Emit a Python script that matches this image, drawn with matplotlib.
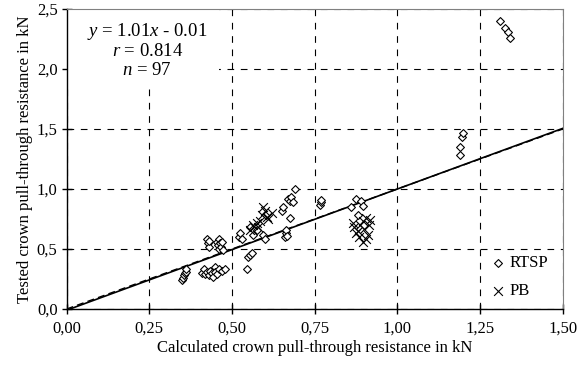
import matplotlib
matplotlib.use("Agg")
import matplotlib.pyplot as plt
from matplotlib.patches import Rectangle
import numpy as np

plt.rcParams["font.family"] = ["Liberation Serif", "DejaVu Serif"]
plt.rcParams["mathtext.fontset"] = "custom"
plt.rcParams["mathtext.rm"] = "Liberation Serif"
plt.rcParams["mathtext.it"] = "Liberation Serif:italic"

# Calculated vs tested crown pull-through resistance (kN)
rtsp_calc = [0.350, 0.352, 0.355, 0.358, 0.360, 0.362,
             0.410, 0.415, 0.420, 0.425, 0.430, 0.435, 0.440, 0.442, 0.448, 0.450, 0.455, 0.460, 0.470, 0.480,
             0.425, 0.428, 0.430, 0.432, 0.455, 0.458, 0.460, 0.462, 0.465, 0.468, 0.470, 0.472,
             0.520, 0.525, 0.530, 0.545, 0.550, 0.555, 0.560, 0.555, 0.565, 0.575, 0.595, 0.600,
             0.650, 0.655, 0.660, 0.662, 0.665, 0.668, 0.670, 0.675, 0.680, 0.685, 0.690, 0.675,
             0.765, 0.768, 0.770,
             0.860, 0.875, 0.890, 0.895, 0.880,
             1.190, 1.190, 1.195, 1.200,
             1.310, 1.325, 1.335, 1.340]
rtsp_test = [0.24, 0.26, 0.28, 0.30, 0.31, 0.33,
             0.30, 0.33, 0.29, 0.31, 0.28, 0.32, 0.30, 0.27, 0.35, 0.31, 0.29, 0.33, 0.32, 0.33,
             0.58, 0.55, 0.52, 0.57, 0.56, 0.53, 0.50, 0.58, 0.55, 0.52, 0.56, 0.49,
             0.60, 0.63, 0.58, 0.33, 0.43, 0.45, 0.47, 0.68, 0.62, 0.66, 0.62, 0.58,
             0.82, 0.85, 0.60, 0.63, 0.66, 0.61, 0.92, 0.90, 0.93, 0.89, 1.00, 0.76,
             0.87, 0.89, 0.91,
             0.85, 0.92, 0.90, 0.86, 0.78,
             1.28, 1.35, 1.43, 1.47,
             2.40, 2.34, 2.31, 2.26]

pb_calc = [0.555, 0.565, 0.575, 0.580, 0.585, 0.590, 0.595, 0.600, 0.605, 0.610, 0.620,
           0.865, 0.870, 0.875, 0.880, 0.885, 0.888, 0.895, 0.900, 0.905, 0.910, 0.915, 0.918, 0.905, 0.895]
pb_test = [0.66, 0.70, 0.72, 0.68, 0.73, 0.78, 0.85, 0.82, 0.77, 0.75, 0.80,
           0.72, 0.68, 0.63, 0.65, 0.60, 0.70, 0.73, 0.67, 0.58, 0.62, 0.70, 0.74, 0.76, 0.56]

slope, intercept = 1.01, -0.01
x_ticks = [0.0, 0.25, 0.5, 0.75, 1.0, 1.25, 1.5]
x_labels = ["0,00", "0,25", "0,50", "0,75", "1,00", "1,25", "1,50"]
y_ticks = [0.0, 0.5, 1.0, 1.5, 2.0, 2.5]
y_labels = ["0,0", "0,5", "1,0", "1,5", "2,0", "2,5"]

fig = plt.figure(figsize=(5.78, 3.71), dpi=100)
ax = fig.add_axes([0.1152, 0.167, 0.8582, 0.8087])

ax.set_xlim(0, 1.5)
ax.set_ylim(0, 2.5)
ax.set_xticks(x_ticks)
ax.set_xticklabels(x_labels)
ax.set_yticks(y_ticks)
ax.set_yticklabels(y_labels)
ax.tick_params(direction="inout", length=7, width=1, labelsize=12, colors="black")
ax.tick_params(axis="x", pad=5)
ax.tick_params(axis="y", pad=3)

ax.grid(True, color="black", linestyle=(0, (6, 6)), linewidth=0.8)
ax.set_axisbelow(True)

for side in ("top", "right"):
    ax.spines[side].set_color("#808080")
    ax.spines[side].set_linewidth(0.8)
for side in ("left", "bottom"):
    ax.spines[side].set_color("black")
    ax.spines[side].set_linewidth(1.0)

# white panel behind the regression statistics
ax.add_patch(Rectangle((0.0, 1.83), 0.46, 0.67, facecolor="white",
                       edgecolor="none", zorder=1))

xs = np.array([0.0, 1.5])
ax.plot(xs, xs, color="black", linestyle=(0, (5, 3)), linewidth=1.0, zorder=3)
ax.plot(xs, slope * xs + intercept, color="black", linewidth=1.2, zorder=3)

ax.scatter(rtsp_calc, rtsp_test, marker="D", s=16, facecolors="white",
           edgecolors="black", linewidths=0.8, zorder=4, label="RTSP")
ax.scatter(pb_calc, pb_test, marker="x", s=40, color="black",
           linewidths=0.8, zorder=4, label="PB")

ax.text(0.244, 2.16, "$y$ = 1.01$x$ - 0.01\n$r$ = 0.814\n$n$ = 97",
        ha="center", va="center", fontsize=13.5, linespacing=1.1, zorder=5)

ax.legend(loc="lower right", frameon=False, fontsize=12, handletextpad=0.1,
          borderaxespad=0.0, labelspacing=0.75, handlelength=1.2,
          bbox_to_anchor=(0.984, 0.01))

ax.set_xlabel("Calculated crown pull-through resistance in kN", fontsize=12, labelpad=2)
ax.set_ylabel("Tested crown pull-through resistance in kN", fontsize=12, labelpad=3)

fig.savefig("out.png", dpi=100)
